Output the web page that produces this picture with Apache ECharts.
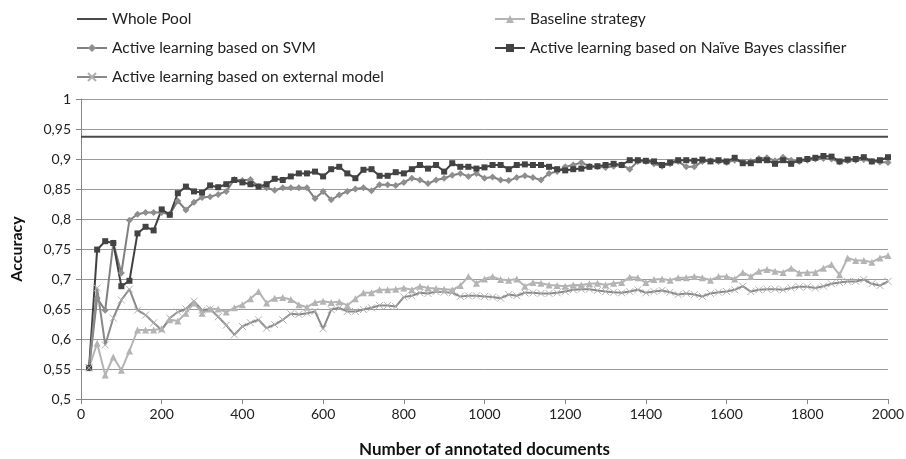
<!DOCTYPE html>
<html>
<head>
<meta charset="utf-8">
<script src="https://cdn.jsdelivr.net/npm/echarts@6/dist/echarts.min.js"></script>
<style>
html,body{margin:0;padding:0;background:#fff;}
#chart{width:906px;height:459px;}
</style>
</head>
<body>
<div id="chart"></div>
<script>
const docs = [20,40,60,80,100,120,140,160,180,200,220,240,260,280,300,320,340,360,380,400,
420,440,460,480,500,520,540,560,580,600,620,640,660,680,700,720,740,760,780,800,
820,840,860,880,900,920,940,960,980,1000,1020,1040,1060,1080,1100,1120,1140,1160,1180,1200,
1220,1240,1260,1280,1300,1320,1340,1360,1380,1400,1420,1440,1460,1480,1500,1520,1540,1560,1580,1600,
1620,1640,1660,1680,1700,1720,1740,1760,1780,1800,1820,1840,1860,1880,1900,1920,1940,1960,1980,2000];

const wholePoolDocs = [0, 2000];
const wholePool = [0.937, 0.937];

const baseline = [0.552,0.593,0.540,0.570,0.548,0.580,0.615,0.615,0.615,0.617,0.632,0.630,0.643,0.660,0.643,0.650,0.650,0.645,0.652,0.657,
0.667,0.679,0.660,0.668,0.669,0.666,0.657,0.653,0.661,0.663,0.661,0.662,0.656,0.667,0.677,0.677,0.682,0.682,0.683,0.685,
0.682,0.688,0.685,0.684,0.683,0.682,0.689,0.704,0.693,0.700,0.704,0.699,0.698,0.700,0.688,0.694,0.693,0.690,0.689,0.688,
0.690,0.690,0.692,0.693,0.690,0.693,0.694,0.703,0.702,0.694,0.699,0.700,0.698,0.702,0.702,0.704,0.702,0.698,0.704,0.704,
0.700,0.711,0.704,0.713,0.716,0.713,0.711,0.718,0.710,0.711,0.711,0.718,0.724,0.707,0.735,0.731,0.731,0.728,0.735,0.739];

const svm = [0.552,0.668,0.648,0.760,0.710,0.798,0.808,0.811,0.811,0.811,0.808,0.830,0.815,0.828,0.836,0.837,0.841,0.846,0.866,0.864,
0.866,0.854,0.852,0.848,0.852,0.852,0.852,0.852,0.834,0.846,0.832,0.840,0.846,0.850,0.852,0.847,0.857,0.857,0.856,0.861,
0.868,0.865,0.859,0.865,0.868,0.873,0.876,0.871,0.876,0.868,0.870,0.865,0.864,0.869,0.872,0.869,0.865,0.876,0.879,0.887,
0.890,0.894,0.888,0.887,0.886,0.888,0.890,0.883,0.896,0.896,0.892,0.888,0.892,0.896,0.887,0.887,0.896,0.897,0.896,0.894,
0.898,0.895,0.896,0.901,0.902,0.897,0.903,0.898,0.896,0.898,0.900,0.901,0.900,0.895,0.897,0.898,0.899,0.896,0.895,0.894];

const naiveBayes = [0.552,0.749,0.763,0.760,0.688,0.697,0.776,0.787,0.781,0.816,0.807,0.843,0.854,0.846,0.844,0.856,0.853,0.858,0.865,0.861,
0.858,0.854,0.858,0.867,0.865,0.871,0.876,0.876,0.879,0.871,0.883,0.887,0.876,0.868,0.882,0.883,0.872,0.872,0.878,0.876,
0.883,0.890,0.884,0.890,0.879,0.893,0.887,0.887,0.884,0.886,0.890,0.890,0.883,0.890,0.891,0.890,0.890,0.887,0.883,0.881,
0.883,0.884,0.887,0.888,0.890,0.892,0.890,0.898,0.898,0.897,0.896,0.890,0.894,0.898,0.898,0.897,0.899,0.896,0.898,0.896,
0.902,0.893,0.893,0.898,0.898,0.892,0.898,0.892,0.898,0.900,0.902,0.905,0.904,0.896,0.899,0.900,0.903,0.896,0.898,0.903];

const external = [0.552,0.685,0.590,0.635,0.665,0.683,0.648,0.640,0.627,0.615,0.635,0.645,0.650,0.663,0.648,0.650,0.637,0.623,0.607,0.621,
0.627,0.632,0.618,0.624,0.632,0.642,0.641,0.643,0.646,0.617,0.649,0.652,0.646,0.646,0.649,0.652,0.656,0.656,0.654,0.670,
0.672,0.677,0.676,0.679,0.678,0.677,0.671,0.672,0.672,0.671,0.670,0.668,0.674,0.672,0.677,0.677,0.676,0.676,0.677,0.679,
0.682,0.683,0.683,0.681,0.679,0.678,0.677,0.679,0.682,0.677,0.679,0.681,0.678,0.674,0.676,0.674,0.671,0.676,0.678,0.679,
0.682,0.688,0.679,0.682,0.683,0.683,0.682,0.685,0.687,0.687,0.685,0.688,0.692,0.694,0.696,0.696,0.699,0.692,0.689,0.696];

const seriesNames = ['Whole Pool','Baseline strategy','Active learning based on SVM','Active learning based on Naïve Bayes classifier','Active learning based on external model'];

function pairs(xs, ys){ return xs.map((x,i)=>[x, ys[i]]); }

const FONT = 'Lato';
const chart = echarts.init(document.getElementById('chart'), null, {renderer:'canvas'});
const legendText = {fontFamily: FONT, fontSize: 15.5, color: '#222'};

chart.setOption({
  animation: false,
  backgroundColor: '#fff',
  grid: {left: 81, right: 18, top: 99, bottom: 60, containLabel: false, outerBoundsMode: 'none'},
  legend: [
    {left: 71, top: 6, orient: 'vertical', itemGap: 13, itemWidth: 30, itemHeight: 10,
     textStyle: legendText,
     data: [{name: seriesNames[0], icon: 'path://M0,0L30,0L30,2L0,2Z'}, seriesNames[2], seriesNames[4]]},
    {left: 489, top: 6, orient: 'vertical', itemGap: 13, itemWidth: 30, itemHeight: 10,
     textStyle: legendText, data: [seriesNames[1], seriesNames[3]]}
  ],
  xAxis: {
    type: 'value', min: 0, max: 2000, interval: 200,
    name: 'Number of annotated documents', nameLocation: 'middle', nameGap: 42,
    nameTextStyle: {fontFamily: FONT, fontSize: 17, fontWeight: 'bold', color: '#111'},
    axisLine: {show: true, lineStyle: {color: '#888', width: 1}},
    axisTick: {show: true, length: 5, lineStyle: {color: '#888'}},
    axisLabel: {fontFamily: FONT, fontSize: 14, color: '#222', margin: 8,
      formatter: v => String(v)},
    splitLine: {show: false}
  },
  yAxis: {
    type: 'value', min: 0.5, max: 1, interval: 0.05,
    name: 'Accuracy', nameLocation: 'middle', nameGap: 56,
    nameTextStyle: {fontFamily: FONT, fontSize: 16, fontWeight: 'bold', color: '#111'},
    axisLine: {show: true, lineStyle: {color: '#888', width: 1}},
    axisTick: {show: true, length: 5, lineStyle: {color: '#888'}},
    axisLabel: {fontFamily: FONT, fontSize: 14, color: '#222', margin: 10,
      formatter: v => String(+v.toFixed(2)).replace('.', ',')},
    splitLine: {show: true, lineStyle: {color: '#9a9a9a', width: 1}}
  },
  series: [
    {name: seriesNames[0], type: 'line', data: pairs(wholePoolDocs, wholePool), showSymbol: false, symbol: 'none',
     lineStyle: {color: '#4a4a4a', width: 2}, itemStyle: {color: '#4a4a4a'}},
    {name: seriesNames[1], type: 'line', data: pairs(docs, baseline), symbol: 'triangle', symbolSize: 7,
     lineStyle: {color: '#b4b4b4', width: 2}, itemStyle: {color: '#b4b4b4'}},
    {name: seriesNames[2], type: 'line', data: pairs(docs, svm), symbol: 'diamond', symbolSize: 7,
     lineStyle: {color: '#808080', width: 2}, itemStyle: {color: '#8e8e8e'}},
    {name: seriesNames[3], type: 'line', data: pairs(docs, naiveBayes), symbol: 'rect', symbolSize: 6,
     lineStyle: {color: '#404040', width: 2}, itemStyle: {color: '#434343'}},
    {name: seriesNames[4], type: 'line', data: pairs(docs, external),
     symbol: 'path://M0,0L10,10M10,0L0,10', symbolSize: 7,
     lineStyle: {color: '#8a8a8a', width: 2},
     itemStyle: {color: 'rgba(0,0,0,0)', borderColor: '#b0b0b0', borderWidth: 1}}
  ]
});
</script>
</body>
</html>
